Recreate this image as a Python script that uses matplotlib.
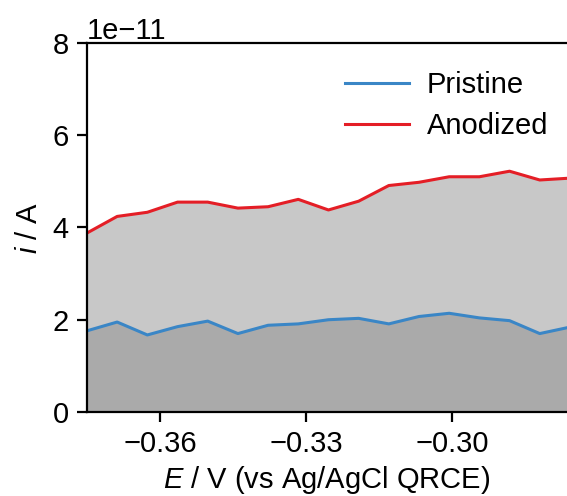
import matplotlib.pyplot as plt
import numpy as np

plt.rcParams['font.family'] = ['Liberation Sans', 'DejaVu Sans']
plt.rcParams['mathtext.fontset'] = 'custom'
plt.rcParams['mathtext.rm'] = 'Liberation Sans'
plt.rcParams['mathtext.it'] = 'Liberation Sans:italic'

# potential (V) and currents (A, x1e-11)
E = [-0.3750, -0.3688, -0.3626, -0.3564, -0.3502, -0.3440, -0.3378, -0.3316,
     -0.3254, -0.3192, -0.3130, -0.3068, -0.3006, -0.2944, -0.2882, -0.2820, -0.2758]
pristine = [1.76, 1.95, 1.67, 1.85, 1.97, 1.70, 1.88, 1.91,
            2.00, 2.03, 1.91, 2.07, 2.14, 2.04, 1.98, 1.70, 1.84]
anodized = [3.88, 4.24, 4.33, 4.55, 4.55, 4.42, 4.45, 4.61,
            4.38, 4.57, 4.91, 4.98, 5.10, 5.10, 5.22, 5.03, 5.07]

x = np.array(E)
p = np.array(pristine) * 1e-11
a = np.array(anodized) * 1e-11

fig = plt.figure(figsize=(5.67, 4.96), dpi=100)
ax = fig.add_axes([0.1534, 0.1694, 0.8466, 0.7439])

ax.fill_between(x, p, a, color='#c8c8c8', lw=0)
ax.fill_between(x, 0, p, color='#aaaaaa', lw=0)
ax.plot(x, p, color='#3a86c6', lw=2.2, label='Pristine')
ax.plot(x, a, color='#e41e26', lw=2.2, label='Anodized')

ax.set_xlim(-0.375, -0.2764)
ax.set_ylim(0, 8e-11)
ax.set_xticks([-0.36, -0.33, -0.30])
ax.set_yticks([0, 2e-11, 4e-11, 6e-11, 8e-11])
ax.spines['right'].set_visible(False)
for s in ['left', 'top', 'bottom']:
    ax.spines[s].set_linewidth(1.6)
ax.tick_params(labelsize=21, length=7, width=1.6, pad=6)
ax.yaxis.get_offset_text().set_fontsize(21)

ax.set_xlabel('$E$ / V (vs Ag/AgCl QRCE)', fontsize=21, labelpad=4)
ax.set_ylabel('$i$ / A', fontsize=21, labelpad=7)

ax.legend(loc='upper right', bbox_to_anchor=(1.016, 0.995), frameon=False,
          fontsize=21, handlelength=2.2, handletextpad=0.6, labelspacing=0.45)

plt.savefig('out.png', dpi=100)
